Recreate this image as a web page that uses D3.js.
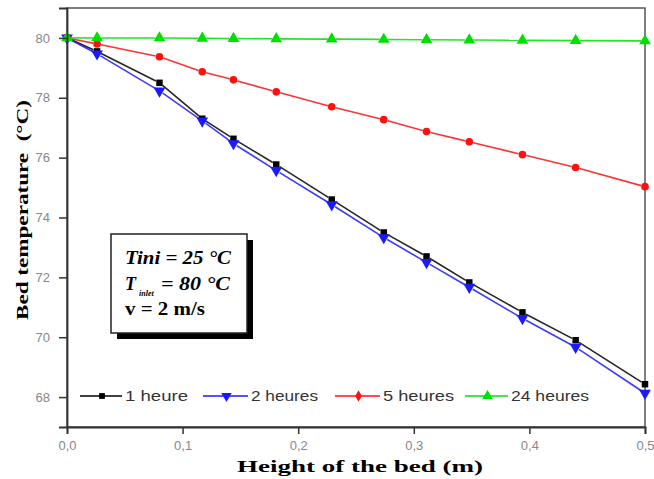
<!DOCTYPE html>
<html>
<head>
<meta charset="utf-8">
<script src="https://cdn.jsdelivr.net/npm/d3@7"></script>
<style>
  body { margin: 0; background: #fff; }
  svg { display: block; }
</style>
</head>
<body>
<svg id="chart" width="654" height="479"></svg>
<script>
// bed height (m), shared by every curve
const heights = [0, 0.026, 0.080, 0.117, 0.144, 0.181, 0.229, 0.274, 0.311, 0.348, 0.394, 0.440, 0.5];

const temp1h  = [80, 79.55, 78.5, 77.3, 76.63, 75.77, 74.6, 73.5, 72.7, 71.83, 70.83, 69.9, 68.43];
const temp2h  = [80, 79.47, 78.23, 77.23, 76.47, 75.57, 74.43, 73.33, 72.5, 71.67, 70.63, 69.67, 68.13];
const temp5h  = [80, 79.8, 79.37, 78.87, 78.6, 78.2, 77.7, 77.27, 76.87, 76.53, 76.1, 75.67, 75.03];
const temp24h = [80, 80.0, 80.0, 79.99, 79.98, 79.97, 79.96, 79.95, 79.94, 79.93, 79.92, 79.91, 79.9];

const seriesNames = ['1 heure', '2 heures', '5 heures', '24 heures'];
const xTicks = [0, 0.1, 0.2, 0.3, 0.4, 0.5];
const yTicks = [68, 70, 72, 74, 76, 78, 80];

const series = [
  { name: seriesNames[0], values: temp1h,  colour: '#000000', symbol: d3.symbolSquare,   size: 42 },
  { name: seriesNames[1], values: temp2h,  colour: '#1a1aff', symbol: 'tri-down',        size: 60 },
  { name: seriesNames[2], values: temp5h,  colour: '#ff1010', symbol: d3.symbolCircle,   size: 46, legendSymbol: d3.symbolDiamond },
  { name: seriesNames[3], values: temp24h, colour: '#00e000', symbol: d3.symbolTriangle, size: 60 }
];

const margin = { top: 8, right: 9, bottom: 52, left: 67 };
const svgW = 654, svgH = 479;
const width = svgW - margin.left - margin.right;
const height = svgH - margin.top - margin.bottom;

const svg = d3.select('#chart');
const g = svg.append('g').attr('transform', 'translate(' + margin.left + ',' + margin.top + ')');

const x = d3.scaleLinear().domain([0, 0.5]).range([0, width]);
const y = d3.scaleLinear().domain([67, 81]).range([height, 0]);

// frame
g.append('rect')
  .attr('width', width).attr('height', height)
  .style('fill', 'none').style('stroke', '#555').style('stroke-width', 1.5);

function symbolPath(sym, size) {
  if (sym === 'tri-down') {
    return d3.symbol().type(d3.symbolTriangle).size(size)();
  }
  return d3.symbol().type(sym).size(size)();
}

// lines drawn as segments with a little gap around each symbol
const gap = 4;
series.forEach(s => {
  const pts = heights.map((h, i) => [x(h), y(s.values[i])]);
  const segs = d3.pairs(pts);
  g.append('g').selectAll('line')
    .data(segs)
    .enter().append('line')
    .each(function(d) {
      const dx = d[1][0] - d[0][0], dy = d[1][1] - d[0][1];
      const len = Math.sqrt(dx * dx + dy * dy);
      const ux = dx / len, uy = dy / len;
      const g0 = len > 3 * gap ? gap : 0;
      d3.select(this)
        .attr('x1', d[0][0] + ux * g0).attr('y1', d[0][1] + uy * g0)
        .attr('x2', d[1][0] - ux * g0).attr('y2', d[1][1] - uy * g0);
    })
    .style('stroke', s.colour)
    .style('stroke-width', 1.6)
    .style('opacity', 0.85);
});

series.forEach(s => {
  g.append('g').selectAll('path')
    .data(heights.map((h, i) => [h, s.values[i]]))
    .enter().append('path')
    .attr('d', symbolPath(s.symbol, s.size))
    .attr('transform', d => 'translate(' + x(d[0]) + ',' + y(d[1]) + ')' + (s.symbol === 'tri-down' ? ' rotate(180)' : ''))
    .style('fill', s.colour);
});

// axes
const xAxis = g.append('g').attr('transform', 'translate(0,' + height + ')');
xAxis.call(d3.axisBottom(x).tickValues(d3.range(0, 0.501, 0.05)).tickSize(5).tickFormat(''));
xAxis.call(d3.axisBottom(x).tickValues(xTicks).tickSize(7).tickPadding(7)
  .tickFormat(d => d3.format('.1f')(d).replace('.', ',')));

const yAxis = g.append('g');
yAxis.call(d3.axisLeft(y).tickValues(d3.range(67, 81.01, 1)).tickSize(5).tickFormat(''));
yAxis.call(d3.axisLeft(y).tickValues(yTicks).tickSize(8).tickPadding(9).tickFormat(d3.format('d')));

svg.selectAll('.domain').style('stroke', '#333').style('stroke-width', 1.8);
svg.selectAll('.tick line').style('stroke', '#333').style('stroke-width', 1.5);
svg.selectAll('.tick text')
  .style('font-family', 'Liberation Sans, Arial, sans-serif')
  .style('font-size', '13px')
  .style('fill', '#888');

const serif = 'Liberation Serif, Times New Roman, serif';

// axis titles
svg.append('text')
  .attr('x', 237).attr('y', 472)
  .attr('textLength', 246).attr('lengthAdjust', 'spacingAndGlyphs')
  .style('font-family', serif)
  .style('font-weight', 'bold').style('font-size', '17px')
  .text('Height of the bed (m)');

svg.append('text')
  .attr('transform', 'translate(28,320) rotate(-90)')
  .attr('textLength', 220).attr('lengthAdjust', 'spacingAndGlyphs')
  .style('font-family', serif)
  .style('font-weight', 'bold').style('font-size', '17px')
  .text('Bed temperature\u00a0\u00a0(°C)');

// conditions box
const box = svg.append('g');
box.append('rect').attr('x', 117).attr('y', 240).attr('width', 136).attr('height', 99).style('fill', '#000');
box.append('rect').attr('x', 111).attr('y', 234).attr('width', 136).attr('height', 99)
  .style('fill', '#fff').style('stroke', '#222').style('stroke-width', 1.5);

box.append('text').attr('x', 125).attr('y', 264)
  .attr('textLength', 106).attr('lengthAdjust', 'spacingAndGlyphs')
  .style('font-family', serif).style('font-size', '18px').style('font-weight', 'bold').style('font-style', 'italic')
  .text('Tini = 25 °C');

const t2 = box.append('text').attr('y', 290)
  .style('font-family', serif).style('font-size', '18px').style('font-weight', 'bold').style('font-style', 'italic');
t2.append('tspan').attr('x', 125).text('T');
t2.append('tspan').attr('x', 139).attr('dy', 6).style('font-size', '8px').text('inlet');
t2.append('tspan').attr('x', 161).attr('dy', -6).attr('textLength', 69).attr('lengthAdjust', 'spacingAndGlyphs').text('= 80 °C');

box.append('text').attr('x', 125).attr('y', 315)
  .attr('textLength', 80).attr('lengthAdjust', 'spacingAndGlyphs')
  .style('font-family', serif).style('font-size', '18px').style('font-weight', 'bold')
  .text('v = 2 m/s');

// legend
const legendX = [80, 203, 335, 465];
const legendLen = [42, 45, 45, 43];
const legendTextW = [63, 67, 71, 78];
const legendY = 396;
const legend = svg.append('g').selectAll('g')
  .data(series)
  .enter().append('g')
  .attr('transform', (d, i) => 'translate(' + legendX[i] + ',' + legendY + ')');

legend.append('line')
  .attr('x1', 0).attr('x2', (d, i) => legendLen[i])
  .style('stroke', d => d.colour).style('stroke-width', 1.6);

legend.append('path')
  .attr('d', d => symbolPath(d.legendSymbol || d.symbol, d.size * 0.8))
  .attr('transform', (d, i) => 'translate(' + (legendLen[i] / 2 + 1) + ',0)' + (d.symbol === 'tri-down' ? ' rotate(180)' : ''))
  .style('fill', d => d.colour);

legend.append('text')
  .attr('x', (d, i) => legendLen[i] + 3).attr('y', 5)
  .attr('textLength', (d, i) => legendTextW[i]).attr('lengthAdjust', 'spacingAndGlyphs')
  .style('font-family', 'Liberation Sans, Arial, sans-serif')
  .style('font-size', '14px')
  .style('fill', '#333')
  .text(d => d.name);
</script>
</body>
</html>
